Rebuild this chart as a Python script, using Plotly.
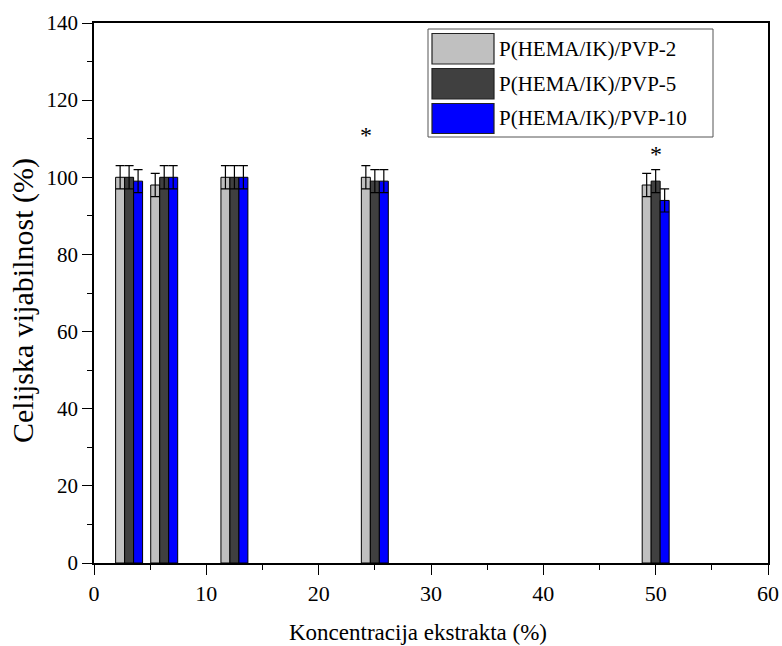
import plotly.graph_objects as go

conc = [3.125, 6.25, 12.5, 25, 50]
series_names = ["P(HEMA/IK)/PVP-2", "P(HEMA/IK)/PVP-5", "P(HEMA/IK)/PVP-10"]
pvp2 = [100, 98, 100, 100, 98]
pvp5 = [100, 100, 100, 99, 99]
pvp10 = [99, 100, 100, 99, 94]
err2 = [3, 3, 3, 3, 3]
err5 = [3, 3, 3, 3, 3]
err10 = [3, 3, 3, 3, 3]
colors = ["#C0C0C0", "#404040", "#0000FF"]
x_title = "Koncentracija ekstrakta (%)"
y_title = "Celijska vijabilnost (%)"
# significance markers: (concentration, series index, height)
stars = [(25, 0, 111.0), (50, 1, 106.0)]

W, H = 782, 646
L, R, T, B = 94, 14, 23, 83
FONT = "Liberation Serif"
BW = 0.8
offsets = [-1.2, -0.4, 0.4]

fig = go.Figure()
for name, vals, errs, col, off in zip(series_names, [pvp2, pvp5, pvp10],
                                       [err2, err5, err10], colors, offsets):
    fig.add_trace(go.Bar(
        x=conc, y=vals, name=name, width=BW, offset=off,
        marker=dict(color=col, line=dict(color="#000000", width=1)),
        error_y=dict(type="data", array=errs, visible=True,
                     color="#000000", thickness=1.2, width=4.5),
        showlegend=False,
    ))

for cx, si, yy in stars:
    fig.add_annotation(x=cx + offsets[si] + BW / 2, y=yy, text="*", showarrow=False,
                       font=dict(family=FONT, size=24, color="#000000"),
                       xanchor="center", yanchor="middle")

# pixel -> paper helpers
pw, ph = W - L - R, H - T - B
def px(xp):
    return (xp - L) / pw
def py(yp):
    return 1 - (yp - T) / ph

# manual legend
fig.add_shape(type="rect", xref="paper", yref="paper",
              x0=px(428), x1=px(713), y0=py(137), y1=py(29),
              line=dict(color="#555555", width=1), fillcolor="white", layer="above")
rows = [(33.5, 64), (68.5, 99), (103.5, 133.5)]
for (y0, y1), name, col in zip(rows, series_names, colors):
    fig.add_shape(type="rect", xref="paper", yref="paper",
                  x0=px(432), x1=px(494), y0=py(y1), y1=py(y0),
                  line=dict(color="#222222", width=1.2), fillcolor=col, layer="above")
    fig.add_annotation(xref="paper", yref="paper", x=px(497), y=py((y0 + y1) / 2),
                       text=name, showarrow=False, xanchor="left", yanchor="middle",
                       font=dict(family=FONT, size=21, color="#000000"))

# axis titles
fig.add_annotation(xref="paper", yref="paper", x=px(417.5), y=py(632),
                   text=x_title, showarrow=False, xanchor="center", yanchor="middle",
                   font=dict(family=FONT, size=23, color="#000000"))
fig.add_annotation(xref="paper", yref="paper", x=px(23), y=py(301),
                   text=y_title, showarrow=False, xanchor="center", yanchor="middle",
                   textangle=-90,
                   font=dict(family=FONT, size=30, color="#000000"))

fig.update_layout(
    width=W, height=H,
    margin=dict(l=L, r=R, t=T, b=B, autoexpand=False),
    plot_bgcolor="white", paper_bgcolor="white",
    barmode="overlay",
    font=dict(family=FONT, size=20, color="#000000"),
)
fig.update_xaxes(
    automargin=False,
    range=[0, 60], tickmode="array", tickvals=[0, 10, 20, 30, 40, 50, 60],
    ticks="outside", ticklen=10, tickwidth=1.2, tickcolor="#000000",
    minor=dict(tickmode="array", tickvals=[5, 15, 25, 35, 45, 55], ticks="outside",
               ticklen=5, tickwidth=1.2, tickcolor="#000000"),
    showline=True, linecolor="#000000", linewidth=1.5, mirror=True,
    showgrid=False, zeroline=False,
    tickfont=dict(family=FONT, size=22, color="#000000"),
)
fig.update_yaxes(
    automargin=False,
    range=[0, 140], tickmode="array", tickvals=[0, 20, 40, 60, 80, 100, 120, 140],
    ticks="outside", ticklen=10, tickwidth=1.2, tickcolor="#000000",
    minor=dict(tickmode="array", tickvals=[10, 30, 50, 70, 90, 110, 130], ticks="outside",
               ticklen=5, tickwidth=1.2, tickcolor="#000000"),
    showline=True, linecolor="#000000", linewidth=1.5, mirror=True,
    showgrid=False, zeroline=False,
    tickfont=dict(family=FONT, size=21, color="#000000"),
)

fig.write_html("out.html")
